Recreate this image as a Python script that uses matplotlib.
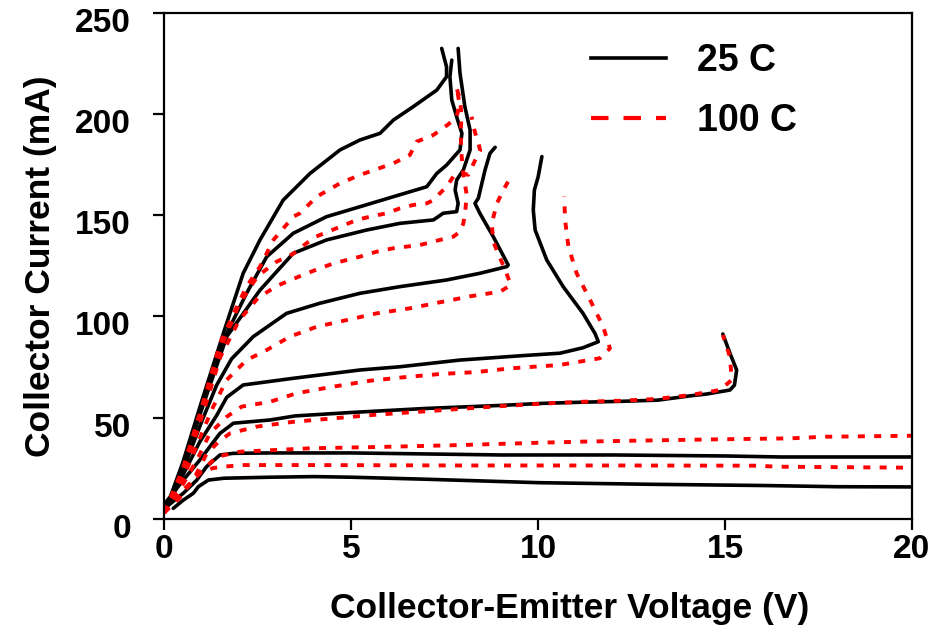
import matplotlib.pyplot as plt
import matplotlib.transforms as mtransforms
from matplotlib.lines import Line2D

plt.rcParams['font.family'] = ['Liberation Sans', 'DejaVu Sans']
plt.rcParams['font.weight'] = 'bold'

# Collector-emitter voltage (V) / collector current (mA), one pair per base drive
# 25 C curves
v_25_1 = [0.24, 0.51, 0.78, 0.91, 1.18, 1.6, 2.83, 4.0, 5.0, 7.0, 10.0, 13.0, 16.0, 18.0, 20.0]
i_25_1 = [5.1, 9.2, 12.6, 15.8, 19.1, 20.0, 20.5, 20.8, 20.5, 19.5, 17.8, 17.0, 16.4, 15.8, 15.7]

v_25_2 = [0.06, 0.51, 0.87, 1.13, 1.49, 1.85, 2.83, 5.0, 7.0, 9.0, 12.0, 15.0, 16.5, 20.0]
i_25_2 = [5.9, 12.6, 19.1, 25.7, 31.5, 32.3, 32.5, 32.5, 32.0, 31.5, 31.5, 31.0, 30.5, 30.5]

v_25_3 = [0.02, 0.51, 0.95, 1.22, 1.49, 1.85, 2.83, 3.5, 5.0, 7.0, 9.0, 10.1, 11.2, 12.2,
          13.2, 14.06, 14.5, 15.13, 15.25, 15.31, 15.13, 14.94]
i_25_3 = [7.6, 19.1, 29.0, 35.6, 42.2, 47.2, 48.8, 50.8, 52.5, 54.5, 56.0, 57.0, 57.6, 58.0,
          58.6, 60.7, 61.6, 63.6, 66.0, 73.5, 81.8, 91.3]

v_25_4 = [0.03, 0.51, 0.95, 1.4, 1.67, 2.11, 3.45, 5.23, 6.3, 7.9, 9.5, 10.58, 11.2, 11.61,
          11.52, 11.2, 10.67, 10.23, 9.92, 9.87, 9.9, 10.0, 10.1]
i_25_4 = [4.0, 22.0, 38.0, 51.0, 60.0, 66.1, 69.4, 73.5, 75.1, 78.4, 80.5, 81.8, 84.5, 87.5,
          91.6, 101.5, 114.7, 127.9, 142.7, 152.6, 162.5, 169.0, 179.0]

v_25_5 = [0.03, 0.5, 1.0, 1.4, 1.8, 2.38, 3.27, 4.16, 5.23, 6.3, 7.55, 8.44, 9.16, 9.2,
          8.8, 8.44, 8.31, 8.4, 8.58, 8.71, 8.85]
i_25_5 = [4.0, 24.0, 48.0, 66.0, 79.0, 90.0, 101.5, 106.5, 111.4, 114.7, 118.0, 121.3, 124.6, 125.4,
          139.4, 151.0, 155.9, 158.4, 172.4, 180.6, 183.6]

v_25_6 = [0.03, 0.5, 1.0, 1.67, 2.56, 3.45, 4.34, 5.41, 6.3, 7.2, 7.46, 7.82, 7.86, 7.78,
          7.82, 8.0, 8.18, 8.18, 8.04, 7.91, 7.86]
i_25_6 = [4.0, 26.0, 54.0, 90.0, 113.0, 131.2, 137.8, 142.7, 146.0, 147.7, 151.0, 151.8, 155.9, 162.5,
          167.4, 172.4, 182.3, 192.1, 203.7, 220.2, 232.5]

v_25_7 = [0.03, 0.5, 1.0, 1.67, 2.2, 2.74, 3.45, 4.34, 5.23, 6.13, 7.02, 7.29, 7.55, 7.91,
          7.96, 7.82, 7.69, 7.64, 7.69]
i_25_7 = [4.0, 27.0, 56.0, 91.6, 111.4, 129.5, 141.1, 149.3, 154.2, 159.2, 164.1, 170.7, 174.8, 182.3,
          190.5, 198.7, 207.0, 218.5, 226.7]

v_25_8 = [0.03, 0.5, 1.0, 1.58, 2.11, 2.56, 3.18, 3.9, 4.7, 5.23, 5.77, 6.13, 6.66, 7.29,
          7.55, 7.55, 7.42]
i_25_8 = [4.0, 28.0, 58.0, 91.6, 121.3, 137.8, 157.5, 170.7, 182.3, 187.2, 190.5, 197.1, 203.7, 211.9,
          218.5, 223.4, 232.5]

# 100 C curves
v_100_1 = [0.0, 0.15, 0.51, 0.78, 0.95, 1.3, 1.58, 2.1, 4.0, 8.0, 12.0, 15.85, 16.38, 20.0]
i_100_1 = [3.0, 9.2, 14.2, 19.1, 22.4, 25.0, 25.7, 26.5, 26.5, 26.3, 26.3, 26.2, 25.7, 25.2]

v_100_2 = [0.0, 0.5, 0.9, 1.2, 1.4, 2.02, 2.47, 3.9, 6.13, 7.91, 10.14, 11.21, 12.72, 14.69,
           16.74, 17.63, 20.0]
i_100_2 = [3.0, 13.0, 22.0, 27.0, 30.6, 33.1, 33.5, 34.8, 35.6, 36.4, 37.6, 38.1, 38.6, 39.2,
           39.7, 40.5, 41.0]

v_100_3 = [0.0, 0.4, 0.8, 1.13, 1.45, 1.76, 2.47, 3.45, 5.59, 8.8, 10.23, 11.21, 12.19, 13.17,
           14.06, 14.86, 15.18, 15.13, 14.94]
i_100_3 = [3.0, 10.0, 20.0, 32.0, 38.0, 42.2, 45.5, 47.9, 51.3, 55.4, 57.0, 57.8, 58.3, 59.2,
           61.1, 63.6, 68.6, 80.0, 90.8]

v_100_4 = [0.0, 0.5, 0.9, 1.22, 1.67, 2.07, 2.83, 3.54, 4.43, 5.5, 6.39, 7.37, 8.36, 9.25,
           10.58, 11.65, 11.92, 11.74, 11.39, 11.03, 10.81, 10.72, 10.7]
i_100_4 = [3.0, 17.0, 30.0, 42.2, 50.4, 55.4, 57.8, 62.0, 65.0, 68.2, 69.9, 71.5, 72.5, 74.3,
           76.0, 79.3, 84.2, 94.9, 108.1, 121.3, 134.5, 147.7, 159.2]

v_100_5 = [0.0, 0.5, 1.0, 1.3, 1.67, 2.2, 2.74, 3.36, 4.08, 4.88, 5.68, 6.57, 7.46, 8.2,
           8.98, 9.27, 9.1, 8.95, 8.8, 8.76, 8.9, 9.07, 9.3]
i_100_5 = [3.0, 20.0, 42.0, 55.0, 68.6, 78.4, 83.4, 90.0, 94.9, 98.2, 101.5, 104.0, 107.3, 110.0,
           112.2, 115.5, 124.0, 130.0, 137.0, 146.0, 156.0, 162.5, 170.0]

v_100_6 = [0.0, 0.5, 1.0, 1.5, 2.0, 2.5, 3.0, 3.81, 4.52, 5.23, 5.68, 6.13, 6.48, 6.84,
           7.37, 7.73, 7.91, 8.0, 8.05, 8.09, 8.0, 7.95, 7.93, 7.95, 7.9, 7.8]
i_100_6 = [3.0, 22.0, 50.0, 80.0, 98.0, 109.0, 115.0, 121.3, 126.2, 129.5, 132.0, 133.7, 134.5, 135.3,
           137.8, 139.4, 141.9, 146.0, 152.0, 160.0, 170.0, 180.0, 190.0, 200.0, 208.0, 214.0]

v_100_7 = [0.0, 0.5, 1.0, 1.5, 2.0, 2.5, 3.0, 3.45, 4.0, 4.7, 5.15, 5.5, 5.95, 6.3,
           6.66, 7.02, 7.2, 7.37, 7.55, 7.73, 8.0, 8.13, 8.31, 8.45, 8.4, 8.31, 8.22]
i_100_7 = [3.0, 24.0, 53.0, 84.0, 106.0, 120.0, 127.0, 131.0, 139.0, 144.3, 147.7, 149.3, 151.0, 153.4,
           155.1, 155.9, 157.5, 160.8, 164.1, 169.1, 170.7, 170.0, 177.0, 182.0, 186.0, 191.0, 198.7]

v_100_8 = [0.0, 0.5, 1.0, 1.5, 1.94, 2.2, 2.56, 2.92, 3.45, 3.63, 4.08, 4.7, 5.23, 6.13,
           6.57, 6.75, 7.2, 7.6, 7.82, 7.9, 7.85, 7.73]
i_100_8 = [3.0, 25.0, 55.0, 87.0, 104.8, 114.7, 124.6, 137.8, 149.3, 151.0, 159.2, 165.8, 169.9, 175.7,
           179.8, 186.4, 189.7, 195.0, 198.7, 205.0, 210.0, 214.4]

curves_25 = [(v_25_1, i_25_1), (v_25_2, i_25_2), (v_25_3, i_25_3), (v_25_4, i_25_4),
             (v_25_5, i_25_5), (v_25_6, i_25_6), (v_25_7, i_25_7), (v_25_8, i_25_8)]
curves_100 = [(v_100_1, i_100_1), (v_100_2, i_100_2), (v_100_3, i_100_3), (v_100_4, i_100_4),
              (v_100_5, i_100_5), (v_100_6, i_100_6), (v_100_7, i_100_7), (v_100_8, i_100_8)]

fig = plt.figure(figsize=(9.35, 6.34), dpi=100)
ax = fig.add_axes([0.1757, 0.1819, 0.7997, 0.7976])

for v, i in curves_25:
    ax.plot(v, i, color='black', lw=2.6, solid_capstyle='round', solid_joinstyle='round')
for v, i in curves_100:
    ax.plot(v, i, color='#ff0000', lw=2.8, dashes=(1.8, 2.4), dash_capstyle='butt')

ax.set_xlim(0, 20)
ax.set_ylim(0, 250)
ax.set_xticks([0, 5, 10, 15, 20])
ax.set_yticks([0, 50, 100, 150, 200, 250])

for side in ['left', 'bottom', 'top', 'right']:
    ax.spines[side].set_linewidth(1.6)
    ax.spines[side].set_color('black')

ax.tick_params(axis='both', direction='out', length=8, width=1.6, labelsize=24)
ax.tick_params(axis='y', pad=16)
ax.tick_params(axis='x', pad=3)

# y tick labels sit a little below their ticks
shift = mtransforms.ScaledTranslation(0, -0.07, fig.dpi_scale_trans)
for lbl in ax.get_yticklabels():
    lbl.set_transform(lbl.get_transform() + shift)

ax.set_xlabel('Collector-Emitter Voltage (V)', fontsize=25.5, fontweight='bold', va='center')
ax.set_ylabel('Collector Current (mA)', fontsize=25.5, fontweight='bold', va='center')
ax.xaxis.set_label_coords(0.5426, -0.177)
ax.yaxis.set_label_coords(-0.166, 0.5)

handles = [Line2D([], [], color='black', lw=2.6),
           Line2D([], [], color='#ff0000', lw=3.0, dashes=(4.2, 3.6), dash_capstyle='butt')]
ax.legend(handles, ['25 C', '100 C'], loc='upper left', bbox_to_anchor=(0.55, 0.971),
          frameon=False, fontsize=27, handlelength=2.0, handletextpad=0.85,
          labelspacing=0.65, borderaxespad=0)

fig.savefig('out.png', dpi=100)
